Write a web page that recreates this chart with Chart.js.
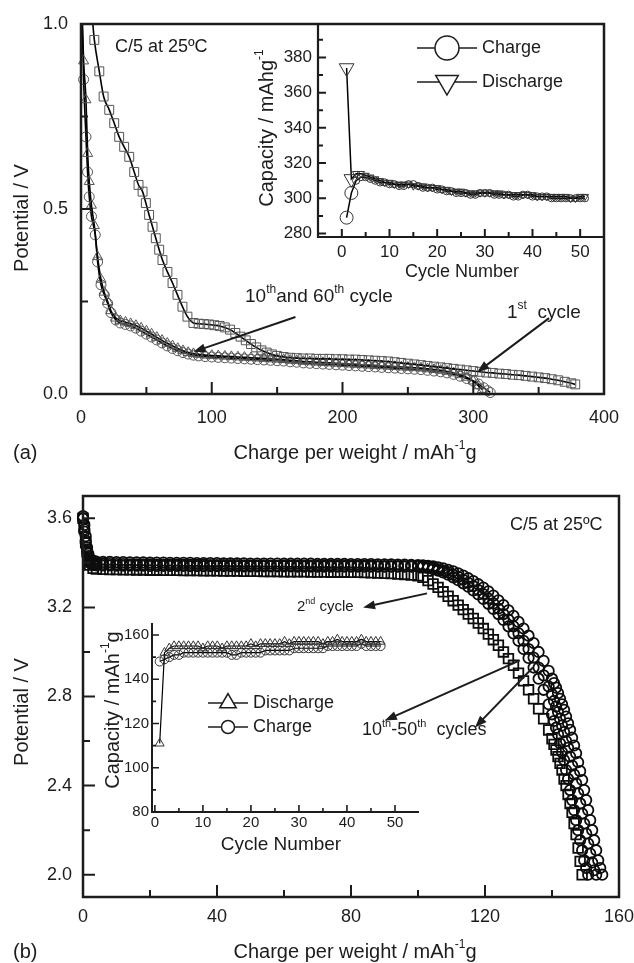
<!DOCTYPE html>
<html>
<head>
<meta charset="utf-8">
<script src="https://cdn.jsdelivr.net/npm/chart.js@4.4.1/dist/chart.umd.min.js"></script>
<style>
  html, body { margin: 0; padding: 0; background: #fff; }
  #wrap { position: relative; width: 634px; height: 963px; }
  #wrap canvas { position: absolute; left: 0; top: 0; }
</style>
</head>
<body>
<div id="wrap">
  <canvas id="mainA" width="634" height="963"></canvas>
  <canvas id="insetA" width="634" height="963"></canvas>
  <canvas id="mainB" width="634" height="963"></canvas>
  <canvas id="insetB" width="634" height="963"></canvas>
</div>
<script>
// ---- panel (a): potential vs charge, 1st / 10th / 60th cycle ----
const capA1 = [8.3, 10.2, 14, 17.3, 21.6, 25.4, 29.2, 33, 36.9, 40.7, 44, 47.1, 49.6, 52.1, 54.7, 57.2, 59.8, 62.3, 66.1, 70,
  73.8, 77.6, 81.4, 86, 90, 94, 98, 102, 106, 110, 114, 118, 122, 126, 130, 134, 138, 142, 146, 150,
  155, 160, 165, 170, 175, 180, 185, 190, 195, 200, 205, 210, 215, 220, 225, 230, 235, 240, 245, 250,
  255, 260, 265, 270, 275, 280, 285, 290, 295, 300, 305, 310, 315, 320, 325, 330, 335, 340, 345, 350,
  355, 360, 365, 370, 375, 378];
const vA1 = [1.03, 0.957, 0.872, 0.804, 0.768, 0.732, 0.695, 0.668, 0.641, 0.60, 0.565, 0.547, 0.516, 0.484, 0.452, 0.421, 0.39, 0.362, 0.33, 0.30,
  0.268, 0.236, 0.209, 0.192, 0.19, 0.189, 0.188, 0.186, 0.184, 0.18, 0.174, 0.165, 0.155, 0.145, 0.135, 0.126, 0.118, 0.112, 0.107, 0.103,
  0.1, 0.098, 0.097, 0.096, 0.096, 0.095, 0.095, 0.095, 0.094, 0.094, 0.093, 0.093, 0.092, 0.091, 0.09, 0.089, 0.088, 0.086, 0.084, 0.082,
  0.08, 0.078, 0.076, 0.074, 0.072, 0.07, 0.068, 0.066, 0.064, 0.062, 0.06, 0.058, 0.057, 0.055, 0.054, 0.052, 0.051, 0.049, 0.047, 0.045,
  0.043, 0.04, 0.037, 0.033, 0.029, 0.026];

const capA10 = [0.8, 2, 3.8, 5.1, 6.3, 8, 10.2, 12.7, 15.3, 17.8, 20.4, 22.9, 26.7, 30, 34, 38, 42, 46, 50, 54,
  58, 62, 66, 70, 74, 78, 82, 86, 90, 95, 100, 105, 110, 115, 120, 125, 130, 135, 140, 145,
  150, 155, 160, 165, 170, 175, 180, 185, 190, 195, 200, 205, 210, 215, 220, 225, 230, 235, 240, 245,
  250, 255, 260, 265, 270, 275, 280, 285, 290, 295, 300, 304, 307];
const vA10 = [1.03, 0.9, 0.795, 0.65, 0.574, 0.51, 0.455, 0.371, 0.31, 0.275, 0.25, 0.225, 0.205, 0.198, 0.194, 0.19, 0.185, 0.178, 0.17, 0.162,
  0.153, 0.145, 0.137, 0.13, 0.123, 0.117, 0.112, 0.109, 0.107, 0.105, 0.104, 0.103, 0.102, 0.101, 0.1, 0.099, 0.098, 0.097, 0.096, 0.095,
  0.094, 0.093, 0.091, 0.09, 0.088, 0.087, 0.086, 0.085, 0.084, 0.083, 0.082, 0.081, 0.08, 0.079, 0.078, 0.077, 0.076, 0.075, 0.074, 0.073,
  0.072, 0.071, 0.07, 0.068, 0.066, 0.064, 0.061, 0.057, 0.052, 0.045, 0.035, 0.022, 0.012];

const capA60 = [0.8, 2, 3.8, 5, 6.3, 8, 10.9, 12.7, 15.3, 17.8, 20.4, 22.9, 26.7, 30, 34, 38, 42, 46, 50, 54,
  58, 62, 66, 70, 74, 78, 82, 86, 90, 95, 100, 105, 110, 115, 120, 125, 130, 135, 140, 145,
  150, 155, 160, 165, 170, 175, 180, 185, 190, 195, 200, 205, 210, 215, 220, 225, 230, 235, 240, 245,
  250, 255, 260, 265, 270, 275, 280, 285, 290, 295, 300, 304, 308, 311, 313];
const vA60 = [1.03, 0.85, 0.695, 0.6, 0.533, 0.48, 0.43, 0.357, 0.295, 0.268, 0.245, 0.22, 0.2, 0.192, 0.188, 0.184, 0.178, 0.17, 0.162, 0.154,
  0.146, 0.138, 0.13, 0.123, 0.117, 0.112, 0.108, 0.105, 0.103, 0.101, 0.1, 0.099, 0.098, 0.097, 0.096, 0.095, 0.094, 0.093, 0.092, 0.091,
  0.09, 0.089, 0.087, 0.086, 0.084, 0.083, 0.082, 0.081, 0.08, 0.079, 0.078, 0.077, 0.076, 0.075, 0.074, 0.073, 0.072, 0.071, 0.07, 0.069,
  0.068, 0.067, 0.066, 0.064, 0.062, 0.06, 0.057, 0.053, 0.048, 0.042, 0.035, 0.027, 0.017, 0.009, 0.004];

const ticksAx = [0, 100, 200, 300, 400];
const minorAx = [50, 150, 250, 350];
const ticksAy = [0, 0.5, 1.0];
const minorAy = [0.25, 0.75];

// inset (a): capacity vs cycle number
const cycA = [1, 2, 3, 4, 5, 6, 7, 8, 9, 10, 11, 12, 13, 14, 15, 16, 17, 18, 19, 20, 21, 22, 23, 24, 25, 26,
  27, 28, 29, 30, 31, 32, 33, 34, 35, 36, 37, 38, 39, 40, 41, 42, 43, 44, 45, 46, 47, 48, 49, 50, 51];
const chargeA = [289, 303, 310, 312, 312, 311, 310, 309, 309, 308, 308, 307, 307, 308, 308, 307, 306, 306, 306, 305, 305, 304, 304, 303, 303, 303,
  302, 302, 303, 303, 303, 302, 302, 302, 302, 301, 301, 302, 302, 301, 301, 301, 301, 300, 300, 300, 300, 300, 300, 300, 300];
const dischargeA = [374, 311, 314, 314, 313, 312, 311, 310, 309, 309, 308, 308, 308, 308, 307, 307, 307, 306, 306, 306, 305, 305, 304, 304, 304, 303,
  303, 303, 303, 303, 303, 303, 303, 302, 302, 302, 302, 302, 302, 302, 301, 301, 301, 301, 301, 301, 301, 300, 300, 301, 301];
const ticksIAx = [0, 10, 20, 30, 40, 50];
const minorIAx = [5, 15, 25, 35, 45, 55];
const ticksIAy = [280, 300, 320, 340, 360, 380];
const minorIAy = [290, 310, 330, 350, 370, 390];

// ---- panel (b): potential vs charge, 2nd and 10th-50th cycles ----
const capB = [0, 0.4, 0.8, 1.2, 1.6, 2, 3,
  4, 6, 8, 10, 12, 14, 16, 18, 20, 22, 24, 26, 28, 30, 32, 34, 36, 38, 40, 42, 44, 46, 48, 50,
  52, 54, 56, 58, 60, 62, 64, 66, 68, 70, 72, 74, 76, 78, 80, 82, 84, 86, 88, 90, 92, 94, 96, 98, 100,
  101.5, 103, 104.5, 106, 107.5, 109, 110.5, 112, 113.5, 115, 116.5, 118, 119.5, 121, 122.5, 124, 125.5,
  127, 128.5, 130, 131.5, 133, 134.5, 136, 137.5, 139,
  140, 140.6, 141.2, 141.8, 142.4, 143, 143.6, 144.2, 144.8, 145.4, 146, 146.6, 147.2, 147.8, 148.4, 149,
  149.6, 150.2, 150.8, 151.4, 152, 152.6, 153.2, 153.8, 154.4, 155];
const vB2 = [3.60, 3.56, 3.49, 3.45, 3.41, 3.39, 3.375,
  3.372, 3.371, 3.370, 3.370, 3.369, 3.369, 3.368, 3.368, 3.367, 3.367, 3.366, 3.366, 3.366, 3.365, 3.365, 3.365, 3.364, 3.364, 3.364, 3.363, 3.363, 3.363, 3.362, 3.362,
  3.362, 3.361, 3.361, 3.361, 3.360, 3.360, 3.360, 3.360, 3.359, 3.359, 3.359, 3.358, 3.358, 3.358, 3.357, 3.357, 3.356, 3.355, 3.354, 3.353, 3.352, 3.350, 3.348, 3.345, 3.342,
  3.335, 3.320, 3.305, 3.290, 3.270, 3.250, 3.230, 3.210, 3.190, 3.170, 3.150, 3.130, 3.105,
  3.080, 3.055, 3.030, 3.000, 2.970, 2.940, 2.905, 2.870, 2.830, 2.790, 2.745, 2.700, 2.650,
  2.610, 2.585, 2.560, 2.530, 2.500, 2.470, 2.430, 2.400, 2.360, 2.320, 2.280, 2.230, 2.180, 2.120, 2.060, 2.000];
const vB10 = [3.60, 3.57, 3.52, 3.47, 3.44, 3.42, 3.41,
  3.405, 3.404, 3.404, 3.403, 3.403, 3.402, 3.402, 3.402, 3.401, 3.401, 3.401, 3.400, 3.400, 3.400, 3.400, 3.399, 3.399, 3.399, 3.399, 3.398, 3.398, 3.398, 3.398, 3.397,
  3.397, 3.397, 3.397, 3.397, 3.396, 3.396, 3.396, 3.396, 3.396, 3.395, 3.395, 3.395, 3.395, 3.395, 3.394, 3.394, 3.394, 3.394, 3.393, 3.393, 3.393, 3.392, 3.392, 3.391, 3.390,
  3.389, 3.387, 3.384, 3.380, 3.375, 3.369, 3.362, 3.353, 3.343, 3.331, 3.318, 3.304, 3.289,
  3.272, 3.253, 3.232, 3.210, 3.187, 3.162, 3.135, 3.105, 3.073, 3.040, 3.000, 2.960, 2.915,
  2.880, 2.860, 2.840, 2.815, 2.790, 2.765, 2.740, 2.710, 2.680, 2.650, 2.615, 2.580, 2.545, 2.505, 2.465, 2.425,
  2.380, 2.335, 2.290, 2.245, 2.200, 2.155, 2.110, 2.065, 2.030, 2.000];
const vB30 = [3.61, 3.55, 3.50, 3.46, 3.43, 3.41, 3.40,
  3.395, 3.395, 3.394, 3.394, 3.394, 3.393, 3.393, 3.393, 3.393, 3.392, 3.392, 3.392, 3.392, 3.391, 3.391, 3.391, 3.391, 3.390, 3.390, 3.390, 3.390, 3.390, 3.389, 3.389,
  3.389, 3.389, 3.388, 3.388, 3.388, 3.388, 3.388, 3.387, 3.387, 3.387, 3.387, 3.387, 3.386, 3.386, 3.386, 3.386, 3.386, 3.386, 3.385, 3.385, 3.385, 3.385, 3.385, 3.385, 3.385,
  3.385, 3.382, 3.377, 3.371, 3.365, 3.357, 3.347, 3.337, 3.324, 3.310, 3.295, 3.278, 3.260,
  3.240, 3.218, 3.195, 3.170, 3.145, 3.115, 3.084, 3.050, 3.013, 2.975, 2.930, 2.895, 2.845,
  2.810, 2.780, 2.755, 2.730, 2.700, 2.670, 2.640, 2.600, 2.570, 2.530, 2.490, 2.450, 2.410, 2.365, 2.320, 2.275,
  2.230, 2.185, 2.140, 2.095, 2.055, 2.020, 2.000];
const vB50 = [3.60, 3.54, 3.49, 3.45, 3.42, 3.40, 3.39,
  3.388, 3.388, 3.388, 3.387, 3.387, 3.387, 3.387, 3.387, 3.386, 3.386, 3.386, 3.386, 3.386, 3.386, 3.385, 3.385, 3.385, 3.385, 3.385, 3.385, 3.385, 3.384, 3.384, 3.384,
  3.384, 3.384, 3.384, 3.384, 3.384, 3.384, 3.383, 3.383, 3.383, 3.383, 3.383, 3.383, 3.383, 3.383, 3.383, 3.383, 3.383, 3.383, 3.383, 3.383, 3.383, 3.383, 3.383, 3.383, 3.383,
  3.383, 3.377, 3.371, 3.365, 3.357, 3.347, 3.335, 3.322, 3.308, 3.293, 3.276, 3.258, 3.238,
  3.216, 3.193, 3.170, 3.144, 3.115, 3.083, 3.050, 3.013, 2.973, 2.930, 2.880, 2.830, 2.765,
  2.720, 2.690, 2.660, 2.630, 2.590, 2.550, 2.515, 2.470, 2.430, 2.380, 2.335, 2.290, 2.245, 2.200, 2.155, 2.110,
  2.065, 2.030, 2.000];

const ticksBx = [0, 40, 80, 120, 160];
const minorBx = [20, 60, 100, 140];
const ticksBy = [2.0, 2.4, 2.8, 3.2, 3.6];
const minorBy = [2.2, 2.6, 3.0, 3.4];

// inset (b): capacity vs cycle number
const cycB = [1, 2, 3, 4, 5, 6, 7, 8, 9, 10, 11, 12, 13, 14, 15, 16, 17, 18, 19, 20, 21, 22, 23, 24,
  25, 26, 27, 28, 29, 30, 31, 32, 33, 34, 35, 36, 37, 38, 39, 40, 41, 42, 43, 44, 45, 46, 47];
const dischargeB = [111, 152, 154, 155, 155, 155, 155, 155, 155, 154, 155, 155, 155, 154, 155, 155, 155, 155, 155, 156, 155, 156, 156, 156,
  156, 156, 157, 156, 157, 157, 157, 157, 157, 157, 156, 157, 157, 158, 157, 157, 157, 157, 158, 157, 157, 157, 157];
const chargeB = [148, 149, 150, 151, 151, 152, 152, 152, 152, 152, 152, 152, 152, 152, 152, 151, 151, 152, 152, 152, 152, 152, 153, 153,
  153, 153, 153, 153, 154, 154, 154, 154, 154, 154, 154, 155, 155, 155, 155, 155, 155, 155, 156, 155, 155, 155, 155];
const ticksIBx = [0, 10, 20, 30, 40, 50];
const minorIBx = [5, 15, 25, 35, 45];
const ticksIBy = [80, 100, 120, 140, 160];
const minorIBy = [90, 110, 130, 150];

// ---------------------------------------------------------------
const FONT = '"Liberation Sans", Arial, Helvetica, sans-serif';
const INK = '#1c1c1c';
Chart.defaults.font.family = FONT;
Chart.defaults.color = INK;
Chart.defaults.animation = false;

const pairs = (xs, ys) => ys.map((y, i) => ({ x: xs[i], y: y }));

// axis box is fixed in size so that the plot area lands exactly where wanted
function axis(min, max, major, fmt, size, pad, boxSize) {
  return {
    type: 'linear', min: min, max: max,
    afterFit: s => {
      if (s.isHorizontal()) s.height = boxSize; else s.width = boxSize;
      // no extra room for overhanging labels
      s.paddingLeft = s.paddingRight = s.paddingTop = s.paddingBottom = 0;
    },
    afterBuildTicks: s => { s.ticks = major.map(v => ({ value: v })); },
    grid: { display: false, drawTicks: false },
    border: { display: false },
    ticks: { autoSkip: false, maxRotation: 0, padding: pad, font: { size: size }, color: INK, callback: fmt }
  };
}

// rich text: parts starting with '^' are superscripts
function rich(ctx, parts, x, y, size, center) {
  const segs = parts.map(p => p[0] === '^'
    ? { t: p.slice(1), s: Math.round(size * 0.62), dy: -size * 0.36 }
    : { t: p, s: size, dy: 0 });
  let w = 0;
  segs.forEach(g => { ctx.font = g.s + 'px ' + FONT; g.w = ctx.measureText(g.t).width; w += g.w; });
  let cx = center ? x - w / 2 : x;
  ctx.textAlign = 'left';
  ctx.textBaseline = 'middle';
  segs.forEach(g => { ctx.font = g.s + 'px ' + FONT; ctx.fillText(g.t, cx, y + g.dy); cx += g.w; });
}

function mark(ctx, style, x, y, r) {
  ctx.beginPath();
  if (style === 'circle') {
    ctx.arc(x, y, r, 0, Math.PI * 2);
  } else {
    const s = style === 'tri' ? -1 : 1;
    ctx.moveTo(x, y + s * r);
    ctx.lineTo(x + r * 0.866, y - s * r * 0.5);
    ctx.lineTo(x - r * 0.866, y - s * r * 0.5);
    ctx.closePath();
  }
  ctx.fillStyle = '#fff';
  ctx.fill();
  ctx.stroke();
}

function makeDecor(cfg) {
  return {
    id: 'decor',
    afterDraw(chart) {
      const ctx = chart.ctx, a = chart.chartArea;
      const sx = chart.scales.x, sy = chart.scales.y;
      ctx.save();
      ctx.strokeStyle = INK;
      ctx.fillStyle = INK;

      // frame
      ctx.lineWidth = cfg.frame;
      ctx.beginPath();
      if (cfg.box) {
        ctx.rect(a.left, a.top, a.right - a.left, a.bottom - a.top);
      } else {
        ctx.moveTo(a.left, a.top);
        ctx.lineTo(a.left, a.bottom);
        ctx.lineTo(a.right, a.bottom);
      }
      ctx.stroke();

      // inward ticks on bottom and left
      ctx.lineWidth = cfg.tickWidth;
      ctx.beginPath();
      [[cfg.xt[0], cfg.major], [cfg.xt[1], cfg.minor]].forEach(([vals, len]) => vals.forEach(v => {
        const p = sx.getPixelForValue(v);
        ctx.moveTo(p, a.bottom); ctx.lineTo(p, a.bottom - len);
      }));
      [[cfg.yt[0], cfg.major], [cfg.yt[1], cfg.minor]].forEach(([vals, len]) => vals.forEach(v => {
        const p = sy.getPixelForValue(v);
        ctx.moveTo(a.left, p); ctx.lineTo(a.left + len, p);
      }));
      ctx.stroke();

      // arrows (given in data units)
      (cfg.arrows || []).forEach(([x1, y1, x2, y2]) => {
        const X1 = sx.getPixelForValue(x1), Y1 = sy.getPixelForValue(y1);
        const X2 = sx.getPixelForValue(x2), Y2 = sy.getPixelForValue(y2);
        const ang = Math.atan2(Y2 - Y1, X2 - X1), L = 12, W = 4.5;
        const c = Math.cos(ang), s = Math.sin(ang);
        ctx.lineWidth = 2;
        ctx.beginPath();
        ctx.moveTo(X1, Y1);
        ctx.lineTo(X2 - c * L * 0.7, Y2 - s * L * 0.7);
        ctx.stroke();
        ctx.beginPath();
        ctx.moveTo(X2, Y2);
        ctx.lineTo(X2 - c * L - s * W, Y2 - s * L + c * W);
        ctx.lineTo(X2 - c * L + s * W, Y2 - s * L - c * W);
        ctx.closePath();
        ctx.fill();
      });

      // legend
      (cfg.legend || []).forEach(l => {
        ctx.lineWidth = 1.5;
        ctx.strokeStyle = INK;
        ctx.beginPath();
        ctx.moveTo(l.x0, l.y); ctx.lineTo(l.x1, l.y);
        ctx.stroke();
        mark(ctx, l.style, (l.x0 + l.x1) / 2, l.y, l.r);
        ctx.fillStyle = INK;
        rich(ctx, [l.label], l.x1 + 5, l.y, l.size, false);
      });

      // free text
      ctx.fillStyle = INK;
      (cfg.texts || []).forEach(t => {
        if (t.rot) {
          ctx.save();
          ctx.translate(t.x, t.y);
          ctx.rotate(-Math.PI / 2);
          rich(ctx, t.p, 0, 0, t.s, true);
          ctx.restore();
        } else {
          rich(ctx, t.p, t.x, t.y, t.s, !!t.c);
        }
      });
      ctx.restore();
    }
  };
}

// plot area edges -> layout padding, leaving room for the fixed axis boxes
function padFor(l, t, r, b, yBox, xBox) {
  return { left: l - yBox, top: t, right: 634 - r, bottom: 963 - b - xBox };
}

const fmt1 = v => Number(v).toFixed(1);
const fmt0 = v => String(v);
const open = 'rgba(0,0,0,0)';

// ---- main (a) ----
const lineA = {
  borderColor: '#000', borderWidth: 1.6, pointBorderColor: '#555', pointBackgroundColor: open,
  pointBorderWidth: 1, cubicInterpolationMode: 'monotone', clip: { left: 8, top: 0, right: 8, bottom: 8 }
};
new Chart(document.getElementById('mainA'), {
  type: 'line',
  data: {
    datasets: [
      Object.assign({ label: '1st cycle', data: pairs(capA1, vA1), pointStyle: 'rect', pointRadius: 6.3 }, lineA),
      Object.assign({ label: '10th cycle', data: pairs(capA10, vA10), pointStyle: 'triangle', pointRadius: 5.8 }, lineA),
      Object.assign({ label: '60th cycle', data: pairs(capA60, vA60), pointStyle: 'circle', pointRadius: 5 }, lineA)
    ]
  },
  options: {
    responsive: false, events: [],
    layout: { padding: padFor(81, 24, 604, 394, 60, 40) },
    plugins: { legend: { display: false }, tooltip: { enabled: false } },
    scales: {
      x: axis(0, 400, ticksAx, fmt0, 18, 13, 40),
      y: axis(0, 1.0, ticksAy, fmt1, 18, 13, 60)
    }
  },
  plugins: [makeDecor({
    box: true, frame: 2.5, tickWidth: 2, major: 12, minor: 7,
    xt: [ticksAx, minorAx], yt: [ticksAy, minorAy],
    arrows: [[164, 0.208, 86, 0.114], [358, 0.205, 303, 0.059]],
    texts: [
      { p: ['C/5 at 25ºC'], x: 115, y: 47, s: 18 },
      { p: ['10', '^th', 'and 60', '^th', ' cycle'], x: 245, y: 297, s: 19 },
      { p: ['1', '^st', '  cycle'], x: 507, y: 313, s: 19 },
      { p: ['Potential / V'], x: 22, y: 218, s: 20, rot: true },
      { p: ['Charge per weight / mAh', '^-1', 'g'], x: 355, y: 453, s: 20, c: true },
      { p: ['(a)'], x: 13, y: 453, s: 20 }
    ]
  })]
});

// ---- inset (a) ----
const lineIA = {
  borderColor: '#000', borderWidth: 1.5, pointBorderColor: '#333', pointBackgroundColor: open,
  pointBorderWidth: 1, tension: 0, clip: 8
};
new Chart(document.getElementById('insetA'), {
  type: 'line',
  data: {
    datasets: [
      Object.assign({ label: 'Discharge', data: pairs(cycA, dischargeA), pointStyle: 'triangle', pointRotation: 180,
        pointRadius: c => c.dataIndex < 2 ? 8.5 : 4.2 }, lineIA),
      Object.assign({ label: 'Charge', data: pairs(cycA, chargeA), pointStyle: 'circle',
        pointRadius: c => c.dataIndex < 2 ? 6.5 : 3.6 }, lineIA)
    ]
  },
  options: {
    responsive: false, events: [],
    layout: { padding: padFor(318, 24, 604, 237, 40, 30) },
    plugins: { legend: { display: false }, tooltip: { enabled: false } },
    scales: {
      x: axis(-5, 55, ticksIAx, fmt0, 17, 5, 30),
      y: axis(278, 399, ticksIAy, fmt0, 17, 6, 40)
    }
  },
  plugins: [makeDecor({
    box: false, frame: 2.2, tickWidth: 2, major: 8, minor: 5,
    xt: [ticksIAx, minorIAx], yt: [ticksIAy, minorIAy],
    legend: [
      { style: 'circle', x0: 417, x1: 477, y: 48, r: 12, label: 'Charge', size: 18 },
      { style: 'triDown', x0: 417, x1: 477, y: 82, r: 13, label: 'Discharge', size: 18 }
    ],
    texts: [
      { p: ['Capacity / mAhg', '^-1'], x: 267, y: 128, s: 20, rot: true },
      { p: ['Cycle Number'], x: 462, y: 272, s: 18, c: true }
    ]
  })]
});

// ---- main (b) ----
const dotB = {
  showLine: false, pointBorderColor: '#0d0d0d', pointBackgroundColor: open, pointBorderWidth: 1.8,
  clip: { left: 8, top: 0, right: 8, bottom: 8 }
};
new Chart(document.getElementById('mainB'), {
  type: 'line',
  data: {
    datasets: [
      Object.assign({ label: '2nd cycle', data: pairs(capB, vB2), pointStyle: 'rect', pointRadius: 6.8 }, dotB),
      Object.assign({ label: '10th cycle', data: pairs(capB, vB10), pointStyle: 'circle', pointRadius: 5.2 }, dotB),
      Object.assign({ label: '30th cycle', data: pairs(capB, vB30), pointStyle: 'circle', pointRadius: 5.2 }, dotB),
      Object.assign({ label: '50th cycle', data: pairs(capB, vB50), pointStyle: 'circle', pointRadius: 5.2 }, dotB)
    ]
  },
  options: {
    responsive: false, events: [],
    layout: { padding: padFor(83, 496, 619, 897, 60, 40) },
    plugins: { legend: { display: false }, tooltip: { enabled: false } },
    scales: {
      x: axis(0, 160, ticksBx, fmt0, 18, 9, 40),
      y: axis(1.9, 3.7, ticksBy, fmt1, 18, 11, 60)
    }
  },
  plugins: [makeDecor({
    box: true, frame: 2.5, tickWidth: 2, major: 12, minor: 7,
    xt: [ticksBx, minorBx], yt: [ticksBy, minorBy],
    arrows: [[102.7, 3.263, 83.6, 3.2], [130.4, 2.962, 90.1, 2.692], [134.3, 2.93, 117, 2.661]],
    texts: [
      { p: ['C/5 at 25ºC'], x: 510, y: 525, s: 18 },
      { p: ['2', '^nd', ' cycle'], x: 297, y: 607, s: 15 },
      { p: ['10', '^th', '-50', '^th', '  cycles'], x: 362, y: 730, s: 18 },
      { p: ['Potential / V'], x: 22, y: 712, s: 20, rot: true },
      { p: ['Charge per weight / mAh', '^-1', 'g'], x: 355, y: 952, s: 20, c: true },
      { p: ['(b)'], x: 13, y: 952, s: 20 }
    ]
  })]
});

// ---- inset (b) ----
const lineIB = {
  borderColor: '#000', borderWidth: 1.2, pointBorderColor: '#333', pointBackgroundColor: open,
  pointBorderWidth: 1, tension: 0, clip: 8
};
new Chart(document.getElementById('insetB'), {
  type: 'line',
  data: {
    datasets: [
      Object.assign({ label: 'Discharge', data: pairs(cycB, dischargeB), pointStyle: 'triangle', pointRadius: 5.2 }, lineIB),
      Object.assign({ label: 'Charge', data: pairs(cycB, chargeB), pointStyle: 'circle', pointRadius: 4.5 }, lineIB)
    ]
  },
  options: {
    responsive: false, events: [],
    layout: { padding: padFor(152, 623, 419, 812, 36, 24) },
    plugins: { legend: { display: false }, tooltip: { enabled: false } },
    scales: {
      x: axis(-0.6, 55, ticksIBx, fmt0, 15, 2, 24),
      y: axis(80, 165.4, ticksIBy, fmt0, 15, 3, 36)
    }
  },
  plugins: [makeDecor({
    box: false, frame: 2, tickWidth: 1.6, major: 7, minor: 4,
    xt: [ticksIBx, minorIBx], yt: [ticksIBy, minorIBy],
    legend: [
      { style: 'tri', x0: 208, x1: 248, y: 703, r: 9.5, label: 'Discharge', size: 18 },
      { style: 'circle', x0: 208, x1: 248, y: 727, r: 6.5, label: 'Charge', size: 18 }
    ],
    texts: [
      { p: ['Capacity / mAh', '^-1', 'g'], x: 113, y: 710, s: 20, rot: true },
      { p: ['Cycle Number'], x: 281, y: 845, s: 19, c: true }
    ]
  })]
});
</script>
</body>
</html>
